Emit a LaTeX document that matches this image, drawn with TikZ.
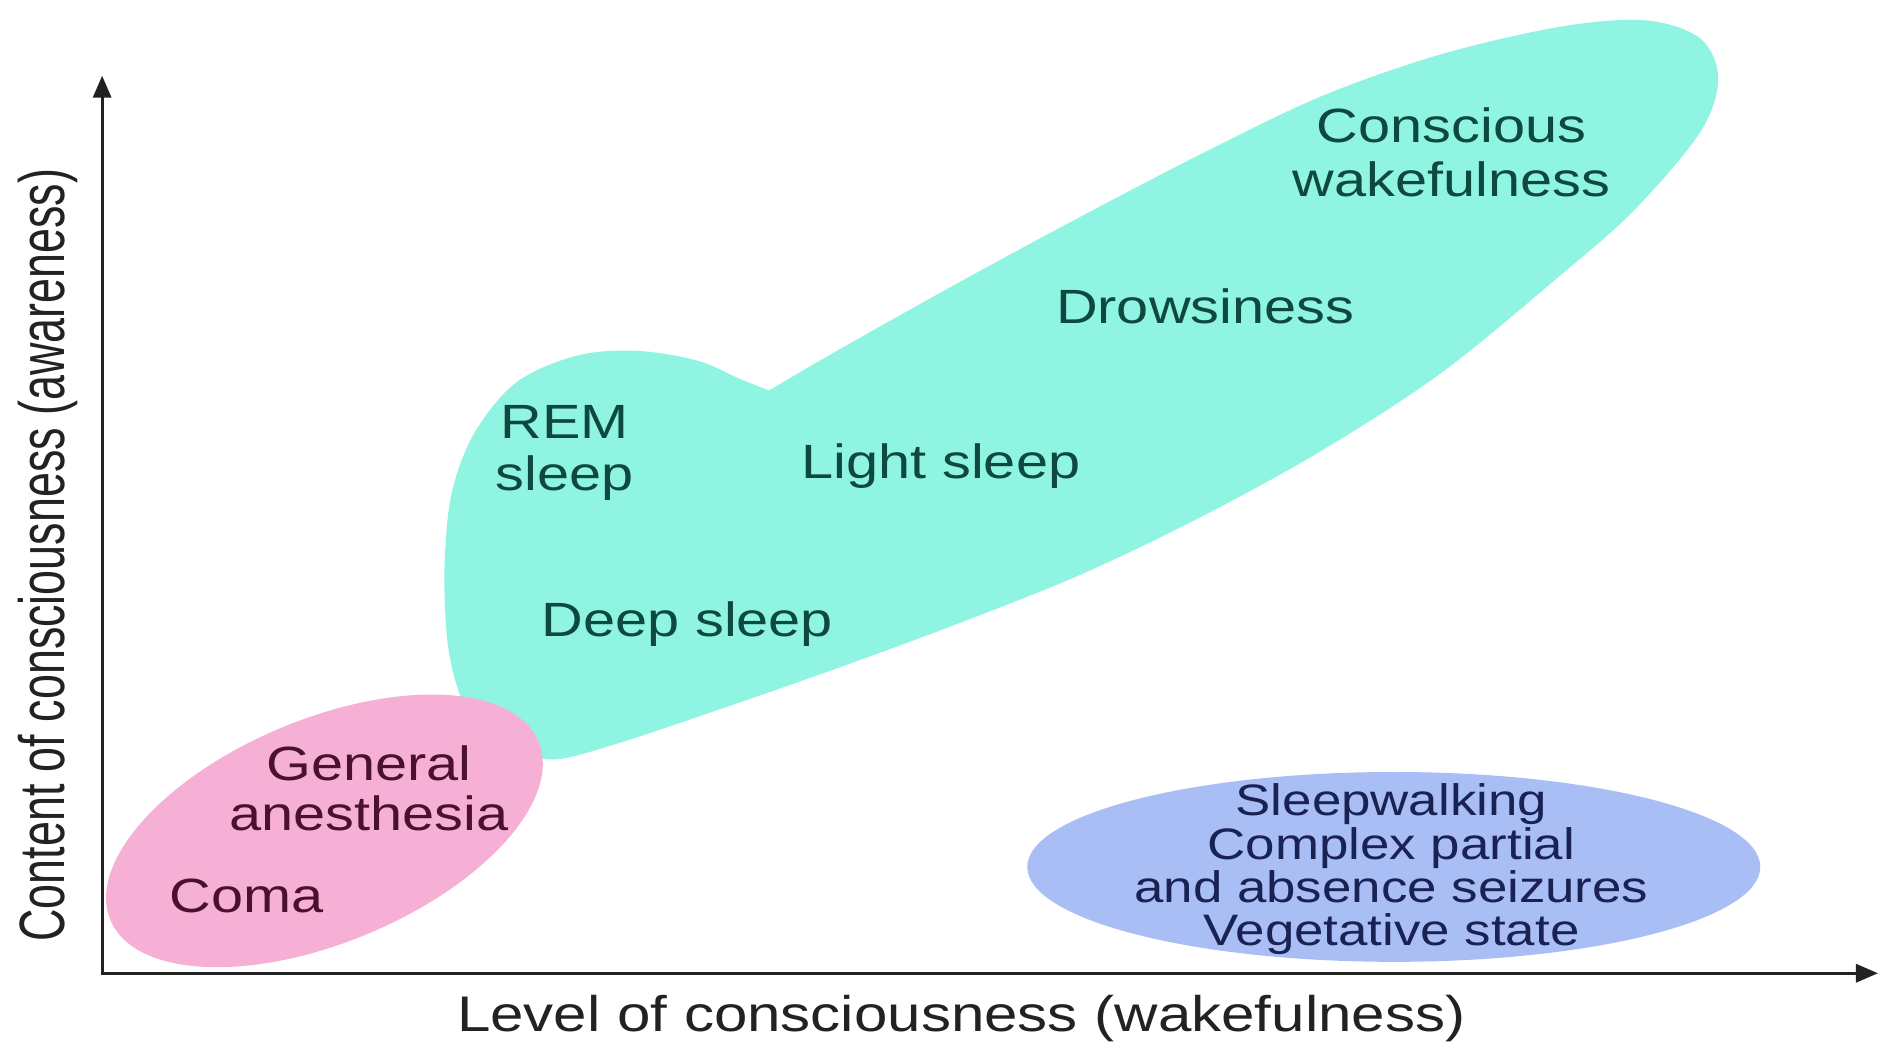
\documentclass[tikz,border=0pt]{standalone}
\usepackage{fontspec}
\setmainfont{Liberation Sans}[FakeStretch=1.2]
\newfontfamily\ylabfont{Liberation Sans}[FakeStretch=0.70]
\usetikzlibrary{arrows.meta}
\definecolor{tealfill}{RGB}{143,245,226}
\definecolor{pinkfill}{RGB}{246,176,213}
\definecolor{bluefill}{RGB}{168,190,244}
\definecolor{tealtext}{RGB}{14,72,62}
\definecolor{pinktext}{RGB}{75,16,48}
\definecolor{bluetext}{RGB}{26,34,84}
\definecolor{axiscol}{RGB}{34,34,34}
\tikzset{
  lbl/.style={inner sep=0pt, align=center, font=\fontsize{24}{27}\selectfont},
  tealtxt/.style={lbl, text=tealtext},
  pinktxt/.style={lbl, text=pinktext},
  bluetxt/.style={lbl, text=bluetext, font=\fontsize{22}{21.6}\selectfont},
  axislbl/.style={inner sep=0pt, text=axiscol, font=\fontsize{25}{28}\selectfont},
  ylbl/.style={inner sep=0pt, text=axiscol, font=\ylabfont\fontsize{32}{36}\selectfont},
  axisline/.style={draw=axiscol, line width=1.6pt, line join=miter,
    {Triangle[length=11pt,width=9pt]}-{Triangle[length=11pt,width=9pt]}}
}
\begin{document}
\begin{tikzpicture}[x=0.6pt,y=-0.6pt]
\useasboundingbox (0,0) rectangle (1568,868);
\fill[white] (0,0) rectangle (1568,868);
% teal region (sleep / wakefulness)
\fill[tealfill] plot[smooth, tension=0.55] coordinates {
  (640,325) (700,290) (800,234) (900,180) (1000,128) (1100,80) (1200,45)
  (1300,22) (1370,17) (1415,32) (1430,65) (1415,110) (1360,175) (1300,228)
  (1200,310) (1100,375) (1000,430) (900,478) (800,518) (700,555) (600,590)
  (510,620) (460,632) (420,622) (393,598) (380,570) (372,530) (370,470)
  (376,410) (395,360) (430,318) (480,296) (530,292) (580,300) (615,315) (640,325)} -- cycle;
% pink region
\fill[pinkfill, rotate around={22.6:(270,691.5)}] (270,691.5) ellipse [x radius=193, y radius=93];
% blue region
\fill[bluefill] (1160,721.5) ellipse [x radius=305, y radius=79];
% axes
\coordinate (origin) at (85,810);
\coordinate (ytop) at (85,63);
\coordinate (xend) at (1563,810);
\draw[axisline] (ytop) -- (origin) -- (xend);
% labels
\node[tealtxt] (conscious) at (1208,127) {Conscious\\wakefulness};
\node[tealtxt] (drowsy) at (1003,255) {Drowsiness};
\node[tealtxt, font=\fontsize{24}{25.8}\selectfont] (rem) at (470,377) {REM\\sleep};
\node[tealtxt] (light) at (783,388) {Light sleep};
\node[tealtxt] (deep) at (572,519) {Deep sleep};
\node[pinktxt, font=\fontsize{24}{25.2}\selectfont] (general) at (307,656) {General\\anesthesia};
\node[pinktxt] (coma) at (205,746) {Coma};
\node[bluetxt] (disorders) at (1158,723.5) {Sleepwalking\\Complex partial\\and absence seizures\\Vegetative state};
\node[axislbl] (xlab) at (800,848) {Level of consciousness (wakefulness)};
\node[ylbl, rotate=90] (ylab) at (40,462) {Content of consciousness (awareness)};
\end{tikzpicture}
\end{document}
